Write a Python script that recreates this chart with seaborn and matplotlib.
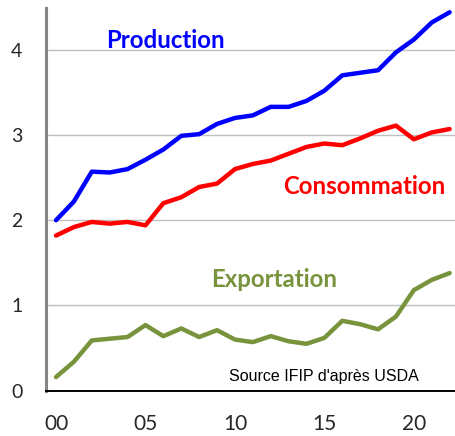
import matplotlib
matplotlib.use("Agg")
import matplotlib.pyplot as plt
import seaborn as sns
import pandas as pd
from matplotlib.ticker import FixedLocator

years = list(range(2000, 2023))
production = [2.00, 2.22, 2.57, 2.56, 2.60, 2.71, 2.83, 2.99, 3.01, 3.13, 3.20, 3.23,
              3.33, 3.33, 3.40, 3.52, 3.70, 3.73, 3.76, 3.97, 4.12, 4.32, 4.44]
consommation = [1.82, 1.92, 1.98, 1.96, 1.98, 1.94, 2.20, 2.27, 2.39, 2.43, 2.60, 2.66,
                2.70, 2.78, 2.86, 2.90, 2.88, 2.96, 3.05, 3.11, 2.95, 3.03, 3.07]
exportation = [0.16, 0.34, 0.59, 0.61, 0.63, 0.77, 0.64, 0.73, 0.63, 0.71, 0.60, 0.57,
               0.64, 0.58, 0.55, 0.62, 0.82, 0.78, 0.72, 0.87, 1.18, 1.30, 1.38]
series_names = ["Production", "Consommation", "Exportation"]
series_colors = ["#0000FF", "#FF0000", "#77933C"]
x_tick_labels = ["00", "05", "10", "15", "20"]
y_ticks = [0, 1, 2, 3, 4]

sns.set_style("white")
plt.rcParams["font.family"] = ["Lato", "DejaVu Sans"]

df = pd.DataFrame({
    "idx": list(range(len(years))) * 3,
    "value": production + consommation + exportation,
    "serie": sum([[n] * len(years) for n in series_names], []),
})

fig = plt.figure(figsize=(4.55, 4.36), dpi=100)
ax = fig.add_axes([46 / 455, 1 - 390.7 / 436, 1 - 46 / 455, (390.7 - 8) / 436])

sns.lineplot(data=df, x="idx", y="value", hue="serie", hue_order=series_names,
             palette=series_colors, linewidth=3.2, legend=False, ax=ax, zorder=3)

ax.set_xlim(-0.56, 22.3)
ax.set_ylim(0, 4.49)
ax.set_xlabel("")
ax.set_ylabel("")

ax.set_yticks(y_ticks)
ax.set_yticklabels([str(v) for v in y_ticks], fontsize=14)
ax.yaxis.grid(True, color="#BFBFBF", linewidth=1.0, zorder=0)
ax.xaxis.grid(False)
ax.tick_params(axis="y", direction="in", length=6, width=1.2, color="black", pad=17)

ax.set_xticks([0, 5, 10, 15, 20])
ax.set_xticklabels(x_tick_labels, fontsize=15)
ax.xaxis.set_minor_locator(FixedLocator([k + 0.5 for k in range(0, 22)]))
ax.tick_params(axis="x", which="major", length=0, pad=17)
ax.tick_params(axis="x", which="minor", direction="in", length=6, width=1, color="black")

for s in ["top", "right"]:
    ax.spines[s].set_visible(False)
ax.spines["left"].set_color("#868686")
ax.spines["left"].set_linewidth(2.2)
ax.spines["bottom"].set_color("black")
ax.spines["bottom"].set_linewidth(1.4)

ax.text(6.1, 4.11, "Production", color=series_colors[0], fontsize=17.3, fontweight="bold",
        ha="center", va="center")
ax.text(17.2, 2.39, "Consommation", color=series_colors[1], fontsize=17.3, fontweight="bold",
        ha="center", va="center")
ax.text(12.2, 1.30, "Exportation", color=series_colors[2], fontsize=17.3, fontweight="bold",
        ha="center", va="center")
ax.text(14.95, 0.17, "Source IFIP d'après USDA", color="black", fontsize=11.5,
        family=["Liberation Sans", "DejaVu Sans"], ha="center", va="center")

fig.savefig("out.png", dpi=100)
